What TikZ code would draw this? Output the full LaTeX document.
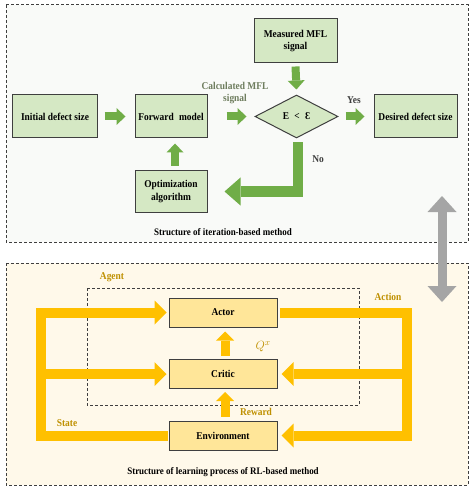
\documentclass[tikz,border=0pt]{standalone}
\usepackage{fontspec}
\setmainfont{Liberation Serif}[FakeStretch=0.9]
\usepackage{xcolor}
\usepackage{tikz}
\usetikzlibrary{shapes,arrows,positioning,calc,arrows.meta}

\definecolor{boxgreen}{HTML}{D5E8C4}
\definecolor{arrgreen}{HTML}{70AD47}
\definecolor{boxyellow}{HTML}{FFE699}
\definecolor{arryellow}{HTML}{FFC000}
\definecolor{labyellow}{HTML}{BF9000}
\definecolor{labolive}{HTML}{6E7D5E}
\definecolor{edgegray}{HTML}{3F3F3F}
\definecolor{arrgray}{HTML}{A5A5A5}
\definecolor{panelgreen}{HTML}{F9FAF8}
\definecolor{panelyellow}{HTML}{FFF9EA}

\begin{document}
\begin{tikzpicture}[x=1bp,y=-1bp,
    font=\bfseries\fontsize{10.5}{12.5}\selectfont,
    panel/.style={draw=edgegray, line width=1bp, dash pattern=on 3bp off 2bp},
    gbox/.style={draw=edgegray, line width=1bp, fill=boxgreen, inner sep=0pt, align=center},
    ybox/.style={draw=edgegray, line width=1bp, fill=boxyellow, inner sep=0pt,
        minimum width=108bp, minimum height=29bp},
    garrow/.style={draw=arrgreen, line width=8bp,
        -{Triangle[width=17bp,length=9bp,line width=0pt]}},
    gbend/.style={draw=arrgreen, line width=10bp,
        -{Triangle[width=28bp,length=16bp,line width=0pt]}},
    yarrow/.style={draw=arryellow, line width=10bp,
        -{Triangle[width=24bp,length=12bp,line width=0pt]}},
    yup/.style={draw=arryellow, line width=9bp,
        -{Triangle[width=18bp,length=9bp,line width=0pt]}},
    smalltext/.style={font=\bfseries\fontsize{10.5}{12}\selectfont},
    ylabel/.style={smalltext, text=labyellow},
    caption/.style={font=\bfseries\fontsize{10}{12}\selectfont}]
    \useasboundingbox (0,0) rectangle (474,492);

    % Panels
    \draw[panel, fill=panelgreen] (6,5) rectangle (468,242);
    \draw[panel, fill=panelyellow] (6,263) rectangle (468,485);

    % Iteration-based method
    \node[gbox, minimum width=84bp, minimum height=43bp] (init) at (55,116.5) {Initial defect size};
    \node[gbox, minimum width=72bp, minimum height=43bp] (fwd) at (171,116.5) {Forward\; model};
    \node[gbox, minimum width=83bp, minimum height=44bp] (meas) at (295.5,41) {Measured MFL\\signal};
    \node[gbox, shape=diamond, aspect=1.93, minimum width=83bp, minimum height=43bp] (cmp) at (296.5,116.5) {E\; <\; Ɛ};
    \node[gbox, minimum width=83bp, minimum height=43bp] (des) at (415.5,116.5) {Desired defect size};
    \node[gbox, minimum width=72bp, minimum height=42bp] (opt) at (171,191.5) {Optimization\\algorithm};

    \draw[garrow] ([xshift=7bp]init.east) -- ([xshift=-9bp]fwd.west);
    \draw[garrow] ([xshift=19bp]fwd.east) -- ([xshift=-8bp]cmp.west);
    \draw[garrow] ([yshift=-3bp]meas.south) -- ([yshift=5bp]cmp.north);
    \draw[garrow] ([xshift=7bp]cmp.east) -- ([xshift=-9bp]des.west);
    \draw[garrow] ([xshift=4bp,yshift=4bp]opt.north) -- ([xshift=4bp,yshift=-5bp]fwd.south);
    \draw[gbend] ([xshift=1.5bp,yshift=-4bp]cmp.south) |- ([xshift=17bp]opt.east);

    \node[smalltext, text=labolive, align=center] (calc) at (235,93) {Calculated MFL\\signal};
    \node[smalltext, text=edgegray] (yes) at (354,100) {Yes};
    \node[smalltext, text=edgegray] (no) at (318,159) {No};
    \node[caption] (cap1) at (223,232) {Structure of iteration-based method};

    % Link between the two methods
    \coordinate (lnktop) at (442,196);
    \coordinate (lnkbot) at (442,302);
    \draw[draw=arrgray, line width=9bp,
        {Triangle[width=29bp,length=16bp,line width=0pt]}-{Triangle[width=29bp,length=16bp,line width=0pt]}] (lnktop) -- (lnkbot);

    % RL-based method
    \draw[panel] (87,288) rectangle (359,405);
    \node[ybox] (actor) at (223,312.5) {Actor};
    \node[ybox] (critic) at (223,374) {Critic};
    \node[ybox] (env) at (223,435.5) {Environment};

    \coordinate (lft) at (40.5,374);
    \coordinate (rgt) at (407,374);
    \draw[yarrow] ([xshift=-1bp]env.west) -| (lft) |- ([xshift=-2bp]actor.west);
    \draw[yarrow] (lft) -- ([xshift=-2bp]critic.west);
    \draw[yarrow] ([xshift=2bp]actor.east) -| (rgt) |- ([xshift=4bp]env.east);
    \draw[yarrow] (rgt) -- ([xshift=4bp]critic.east);
    \draw[yup] ([xshift=2bp,yshift=3bp]critic.north) -- ([xshift=2bp,yshift=-4bp]actor.south);
    \draw[yup] ([xshift=2bp,yshift=4bp]env.north) -- ([xshift=2bp,yshift=-3bp]critic.south);

    \node[ylabel] (agent) at (112,277) {Agent};
    \node[ylabel] (action) at (388,297) {Action};
    \node[ylabel, font=\fontsize{12.5}{14}\selectfont] (qx) at (263,347) {$Q^x$};
    \node[ylabel] (reward) at (256,412) {Reward};
    \node[ylabel] (state) at (67,423) {State};
    \node[caption] (cap2) at (223,472) {Structure of learning process of RL-based method};
\end{tikzpicture}
\end{document}
